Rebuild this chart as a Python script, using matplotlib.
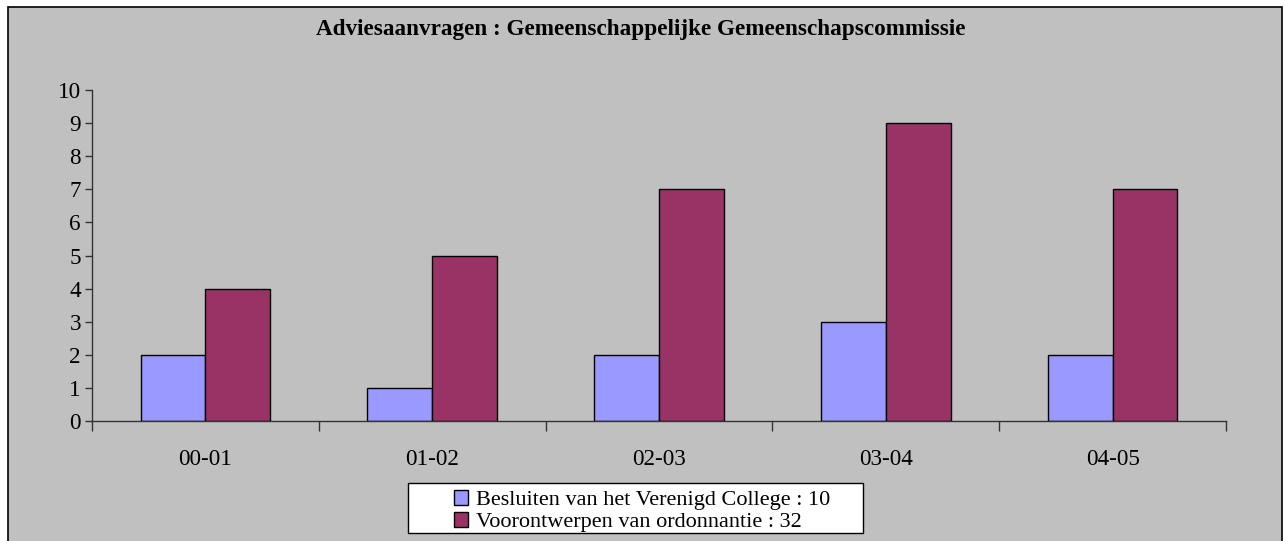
import numpy as np
import matplotlib
matplotlib.use("Agg")
import matplotlib.pyplot as plt
from matplotlib.patches import Rectangle

# Data
categories = ["00-01", "01-02", "02-03", "03-04", "04-05"]
besluiten = [2, 1, 2, 3, 2]
voorontwerpen = [4, 5, 7, 9, 7]
series_labels = ["Besluiten van het Verenigd College : 10",
                 "Voorontwerpen van ordonnantie : 32"]
title = "Adviesaanvragen : Gemeenschappelijke Gemeenschapscommissie"

plt.rcParams["font.family"] = ["Liberation Serif", "DejaVu Serif"]
FS = 16.7
W, H = 1285, 541

fig = plt.figure(figsize=(12.85, 5.41), dpi=100)
fig.patch.set_facecolor("white")

# grey chart area with black border
fig.patches.append(Rectangle((8 / W, -0.05), 1274 / W, 1.05 - 7 / H,
                             transform=fig.transFigure, facecolor="#C0C0C0",
                             edgecolor="black", linewidth=1.2, zorder=-2))

ax = fig.add_axes([92 / W, 120 / H, 1134 / W, 331 / H])
ax.patch.set_alpha(0)

x = np.arange(len(categories))
w = 0.286
ax.bar(x - w / 2, besluiten, w, color="#9999FF", edgecolor="black", linewidth=1, label=series_labels[0])
ax.bar(x + w / 2, voorontwerpen, w, color="#993366", edgecolor="black", linewidth=1, label=series_labels[1])

ax.set_xlim(-0.5, len(categories) - 0.5)
ax.set_ylim(0, 10)
ax.set_yticks(range(0, 11))
ax.tick_params(axis="y", labelsize=FS, length=5, width=1, color="#333333", pad=3)

ax.set_xticks(np.arange(-0.5, len(categories), 1.0))
ax.set_xticklabels([])
ax.tick_params(axis="x", which="major", length=7, width=1, color="#333333")
ax.set_xticks(x, minor=True)
ax.set_xticklabels(categories, minor=True)
ax.tick_params(axis="x", which="minor", length=0, labelsize=FS, pad=20)

for s in ["top", "right"]:
    ax.spines[s].set_visible(False)
for s in ["left", "bottom"]:
    ax.spines[s].set_color("#333333")
    ax.spines[s].set_linewidth(1)

fig.text(0.499, 1 - 30 / H, title, ha="center", va="center", fontsize=FS, fontweight="bold")

# legend frame (wider than its contents, as in the original)
fig.patches.append(Rectangle((408 / W, 1 - 533 / H), 455 / W, 50 / H,
                             transform=fig.transFigure, facecolor="white",
                             edgecolor="black", linewidth=1, zorder=-1))
leg = fig.legend(loc="upper left", bbox_to_anchor=(452 / W, 1 - 488 / H), fontsize=16,
                 frameon=False, handlelength=0.62, handleheight=0.62, handletextpad=0.35,
                 labelspacing=0.1, borderpad=0.1, borderaxespad=0)

fig.savefig("out.png", dpi=100)
